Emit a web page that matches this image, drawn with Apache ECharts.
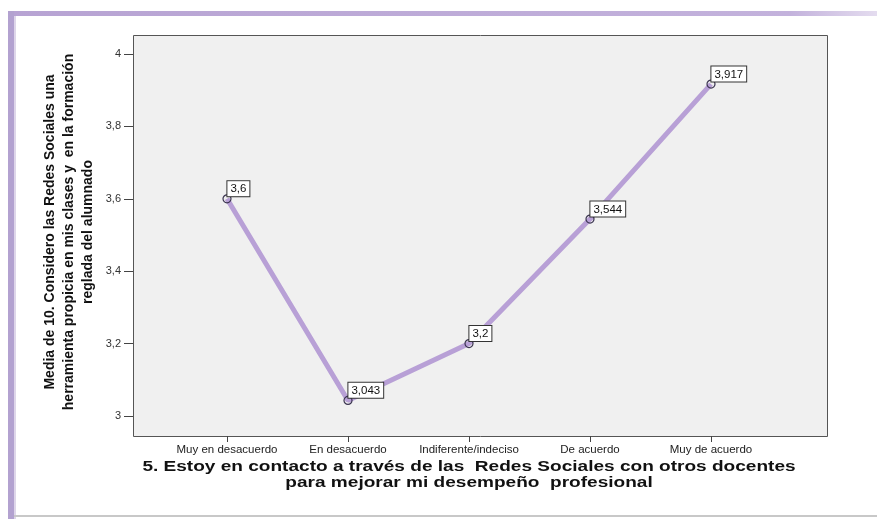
<!DOCTYPE html>
<html><head><meta charset="utf-8">
<script src="https://cdn.jsdelivr.net/npm/echarts@6/dist/echarts.min.js"></script>
<style>html,body{margin:0;padding:0;background:#fff;}#c{width:877px;height:519px;}</style>
</head><body><div id="c"></div>
<script>
const categories = ['Muy en desacuerdo','En desacuerdo','Indiferente/indeciso','De acuerdo','Muy de acuerdo'];
const means = [3.6, 3.043, 3.2, 3.544, 3.917];
const meanLabels = ['3,6','3,043','3,2','3,544','3,917'];
const yTicks = [3, 3.2, 3.4, 3.6, 3.8, 4];
const yTickLabels = ['3','3,2','3,4','3,6','3,8','4'];
const yTitle = 'Media de 10. Considero las Redes Sociales una\nherramienta propicia en mis clases y  en la formación\nreglada del alumnado';
const xTitle = '5. Estoy en contacto a través de las  Redes Sociales con otros docentes\npara mejorar mi desempeño  profesional';

const chart = echarts.init(document.getElementById('c'), null, {renderer:'canvas'});
chart.setOption({
  backgroundColor: '#ffffff',
  animation: false,
  graphic: [
    {type:'rect', z:-10, shape:{x:8,y:11,width:869,height:5}, style:{fill:new echarts.graphic.LinearGradient(0,0,1,0,[{offset:0,color:'#b7a3d3'},{offset:0.9,color:'#c3b2dc'},{offset:1,color:'#e4dcef'}])}},
    {type:'rect', z:-10, shape:{x:8,y:11,width:6,height:508}, style:{fill:'#b3a2d0'}},
    {type:'rect', z:-10, shape:{x:14,y:16,width:2,height:503}, style:{fill:'#ded6ea'}},
    {type:'rect', z:-10, shape:{x:14,y:515,width:863,height:2}, style:{fill:'#c8c8c8'}},
    {type:'rect', z:-5, shape:{x:133.5,y:35.5,width:694,height:401}, style:{fill:'#f0f0f0', stroke:'#555555', lineWidth:1}},
    {type:'text', z:5, x:69, y:232, rotation:Math.PI/2, style:{text:yTitle, font:'bold 14px "Liberation Sans Narrow", "Arial Narrow", "Liberation Sans", sans-serif', fill:'#111', align:'center', verticalAlign:'middle', lineHeight:19}},
    {type:'text', z:5, x:469, y:475, scaleX:1.27, style:{x:0, y:0, text:xTitle, font:'bold 15px "Liberation Sans", Arial, sans-serif', fill:'#111', align:'center', verticalAlign:'middle', lineHeight:16}}
  ],
  grid: {left:227, right:166, top:54, bottom:103, show:false},
  xAxis: {
    type:'category', data:categories, boundaryGap:false, offset:20,
    axisLine:{show:false},
    axisTick:{show:true, length:6, lineStyle:{color:'#444'}},
    axisLabel:{fontSize:11.5, color:'#222', margin:8, fontFamily:'"Liberation Sans", Arial, sans-serif', interval:0},
    splitLine:{show:false}
  },
  yAxis: {
    type:'value', min:3, max:4, interval:0.2, offset:94,
    axisLine:{show:false},
    axisTick:{show:true, length:9, lineStyle:{color:'#444'}},
    axisLabel:{fontSize:11, color:'#333', margin:12, fontFamily:'"Liberation Sans", Arial, sans-serif',
      formatter:function(v){ const i = yTicks.findIndex(t=>Math.abs(t-v)<1e-6); return i>=0 ? yTickLabels[i] : ''; }},
    splitLine:{show:false}
  },
  series: [{
    type:'line', data:means, z:3,
    lineStyle:{color:'#b8a0d6', width:5},
    symbol:'circle', symbolSize:8, showSymbol:true,
    itemStyle:{color:'rgba(0,0,0,0)', borderColor:'#3a3350', borderWidth:1.2},
    label:{show:true, position:[5,-13],
      formatter:function(p){ return meanLabels[p.dataIndex]; },
      fontSize:11.5, color:'#111', fontFamily:'"Liberation Sans", Arial, sans-serif',
      backgroundColor:'#ffffff', borderColor:'#333', borderWidth:1, padding:[2,3,1,3], align:'left'}
  }]
});
</script></body></html>
